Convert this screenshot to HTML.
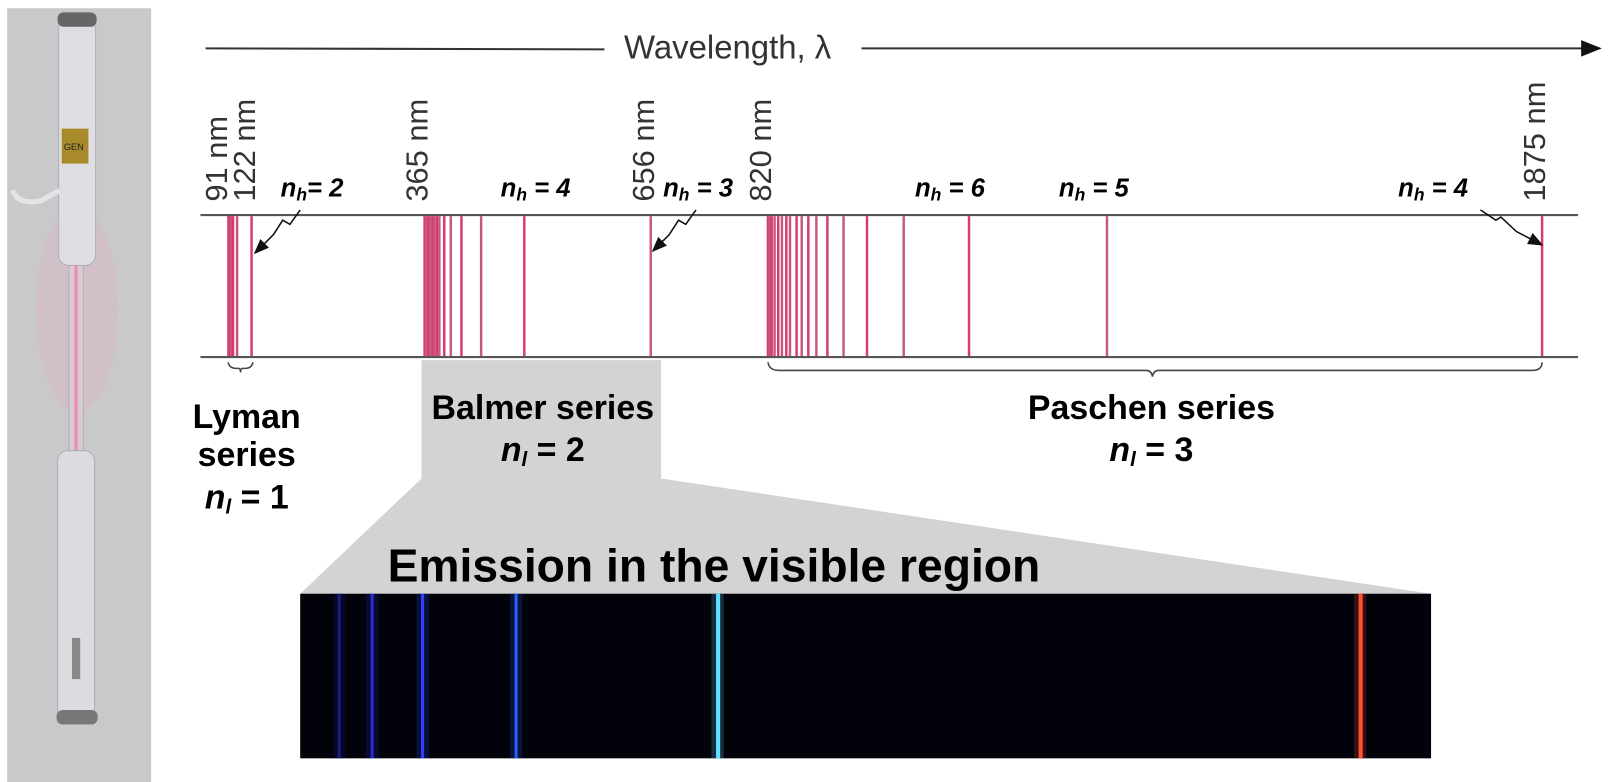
<!DOCTYPE html>
<html><head><meta charset="utf-8"><style>
html,body{margin:0;padding:0;background:#fff;overflow:hidden}
svg{display:block}
text{font-family:"Liberation Sans",Arial,sans-serif}
.b{font-weight:bold;fill:#000}
</style></head><body>
<svg id="chart" width="1612" height="782" viewBox="0 0 1568 760" preserveAspectRatio="none">
<defs>
<marker id="ah" markerWidth="10" markerHeight="10" refX="9" refY="5" orient="auto"><path d="M0,1 L10,5 L0,9 Z" fill="#111"/></marker>
</defs>
<g>
<rect x="7" y="8" width="140" height="752" fill="#c9c9cc"/>
<ellipse cx="75" cy="300" rx="40" ry="100" fill="#dcb7c4" opacity="0.5"/>
<rect x="57" y="18" width="36" height="240" rx="10" fill="#dedee2" stroke="#b0b0b4"/>
<rect x="56" y="12" width="38" height="14" rx="6" fill="#666"/>
<rect x="60" y="125" width="26" height="34" fill="#a88a2a"/>
<text x="62" y="146" font-size="9" fill="#222">GEN</text>
<path d="M12,185 Q18,200 40,195 L58,185" stroke="#e4e4e6" stroke-width="5" fill="none"/>
<rect x="67" y="258" width="14" height="180" fill="#d8cbd2" stroke="#b0b0b4"/>
<line x1="74" y1="258" x2="74" y2="438" stroke="#e98bb3" stroke-width="3"/>
<rect x="56" y="438" width="36" height="260" rx="10" fill="#dcdce0" stroke="#b0b0b4"/>
<rect x="55" y="690" width="40" height="14" rx="6" fill="#777"/>
<rect x="70" y="620" width="8" height="40" fill="#888"/>
</g>
<g>
<line x1="200" y1="47" x2="588" y2="48" stroke="#333" stroke-width="2"/>
<text x="607" y="57" font-size="32" fill="#333">Wavelength, λ</text>
<line x1="838" y1="47" x2="1556" y2="47" stroke="#333" stroke-width="2" marker-end="url(#ah)"/>
</g>
<g>
<line x1="195" y1="209" x2="1535" y2="209" stroke="#555" stroke-width="2"/>
<line x1="195" y1="347" x2="1535" y2="347" stroke="#555" stroke-width="2"/>
<g id="lines"></g>
</g>
<g id="labels" font-size="30" fill="#333"></g>
<g class="b" font-size="25" font-style="italic">
<text x="273" y="191">n<tspan font-size="17" dy="4">h</tspan><tspan dy="-4">= 2</tspan></text>
<text x="487" y="191">n<tspan font-size="17" dy="4">h</tspan><tspan dy="-4"> = 4</tspan></text>
<text x="645" y="191">n<tspan font-size="17" dy="4">h</tspan><tspan dy="-4"> = 3</tspan></text>
<text x="890" y="191">n<tspan font-size="17" dy="4">h</tspan><tspan dy="-4"> = 6</tspan></text>
<text x="1030" y="191">n<tspan font-size="17" dy="4">h</tspan><tspan dy="-4"> = 5</tspan></text>
<text x="1360" y="191">n<tspan font-size="17" dy="4">h</tspan><tspan dy="-4"> = 4</tspan></text>
</g>
<g fill="none" stroke="#111" stroke-width="1.5">
<path d="M292,204 L282,218 L275,214 L266,228 L248,246" marker-end="url(#ah)"/>
<path d="M677,204 L667,218 L660,214 L651,228 L635,244" marker-end="url(#ah)"/>
<path d="M1440,204 L1455,214 L1460,211 L1475,225 L1500,238" marker-end="url(#ah)"/>
</g>
<g fill="none" stroke="#444" stroke-width="1.5">
<path d="M222,352 Q223,358 230,358 L232,358 Q234,358 234,362 Q234,358 236,358 L238,358 Q245,358 246,352"/>
<path d="M747,352 Q748,360 758,360 L1115,360 Q1120,360 1121,366 Q1122,360 1127,360 L1490,360 Q1500,360 1500,352"/>
</g>
<polygon points="410,350 643,350 643,465 1392,577 292,577 410,465" fill="#d3d3d3"/>
<g class="b" font-size="33" text-anchor="middle">
<text x="240" y="416">Lyman</text>
<text x="240" y="453">series</text>
<text x="240" y="494"><tspan font-style="italic">n</tspan><tspan font-size="20" dy="5" font-style="italic">l</tspan><tspan dy="-5"> = 1</tspan></text>
<text x="528" y="407">Balmer series</text>
<text x="528" y="448"><tspan font-style="italic">n</tspan><tspan font-size="20" dy="5" font-style="italic">l</tspan><tspan dy="-5"> = 2</tspan></text>
<text x="1120" y="407">Paschen series</text>
<text x="1120" y="448"><tspan font-style="italic">n</tspan><tspan font-size="20" dy="5" font-style="italic">l</tspan><tspan dy="-5"> = 3</tspan></text>
</g>
<text class="b" x="377" y="565" font-size="45">Emission in the visible region</text>
<g>
<rect x="292" y="577" width="1100" height="160" fill="#02030a"/>
<g id="vis"></g>
</g>
</svg>
<script>
// Wavelengths (nm) of emission lines
const lymanLines = [91.2, 91.6, 92.3, 93.0, 93.8, 95.0, 97.3, 102.6, 121.6];
const balmerLines = [365, 368, 370, 372, 375, 377, 380, 383, 389, 397, 410, 434, 486, 656];
const paschenLines = [820, 822, 825, 829, 834, 839, 845, 850, 859, 866, 875, 886, 901, 923, 955, 1005, 1094, 1282, 1875];
const tickLabels = ["91 nm", "122 nm", "365 nm", "656 nm", "820 nm", "1875 nm"];
const tickValues = [91, 122, 365, 656, 820, 1875];
const visibleLines = [389, 397, 410, 434, 486, 656];
const visibleColors = ["#1a1a80", "#2a2ad0", "#3040ff", "#2a5cff", "#60e0ff", "#ff5030"];

const NS = "http://www.w3.org/2000/svg";
const axA = [[91,222],[122,245],[365,413],[434,468],[486,510],[656,633],[820,747],[1875,1500]];
function pw(anchors, v){
  for(let i=0;i<anchors.length-1;i++){
    const [a,pa]=anchors[i],[b,pb]=anchors[i+1];
    if(v<=b||i===anchors.length-2) return pa+(v-a)*(pb-pa)/(b-a);
  }
}
const xScale = v => pw(axA, v);
const visA = [[389,330],[397,362],[410,411],[434,502],[486,698],[656,1323]];
const vScale = v => pw(visA, v);

const lg = document.getElementById('lines');
[["lyman",lymanLines],["balmer",balmerLines],["paschen",paschenLines]].forEach(([s,arr])=>{
  arr.forEach((w,i)=>{
    const l=document.createElementNS(NS,'line');
    const x=xScale(w);
    l.setAttribute('x1',x);l.setAttribute('x2',x);l.setAttribute('y1',210);l.setAttribute('y2',346);
    l.setAttribute('stroke',i%2?'#c8577f':'#d83a6a');l.setAttribute('stroke-width',2.4);
    
    
    lg.appendChild(l);
  });
});
const lab = document.getElementById('labels');
tickValues.forEach((v,i)=>{
  const t=document.createElementNS(NS,'text');
  const x=xScale(v)-8+(i===0?-4:0);
  t.setAttribute('transform','translate('+(x+11)+',196) rotate(-90)');
  t.textContent=tickLabels[i];
  
  
  lab.appendChild(t);
});
const vg=document.getElementById('vis');
visibleLines.forEach((w,i)=>{
  const x=vScale(w);
  const g=document.createElementNS(NS,'rect');
  g.setAttribute('x',x-6);g.setAttribute('y',577);g.setAttribute('width',12);g.setAttribute('height',160);
  g.setAttribute('fill',visibleColors[i]);g.setAttribute('opacity',0.2);
  
  
  vg.appendChild(g);
  const r=document.createElementNS(NS,'rect');
  r.setAttribute('x',x-1.5);r.setAttribute('y',577);r.setAttribute('width',i>=4?4:3);r.setAttribute('height',160);
  r.setAttribute('fill',visibleColors[i]);
  
  
  vg.appendChild(r);
});
</script>
</body></html>
